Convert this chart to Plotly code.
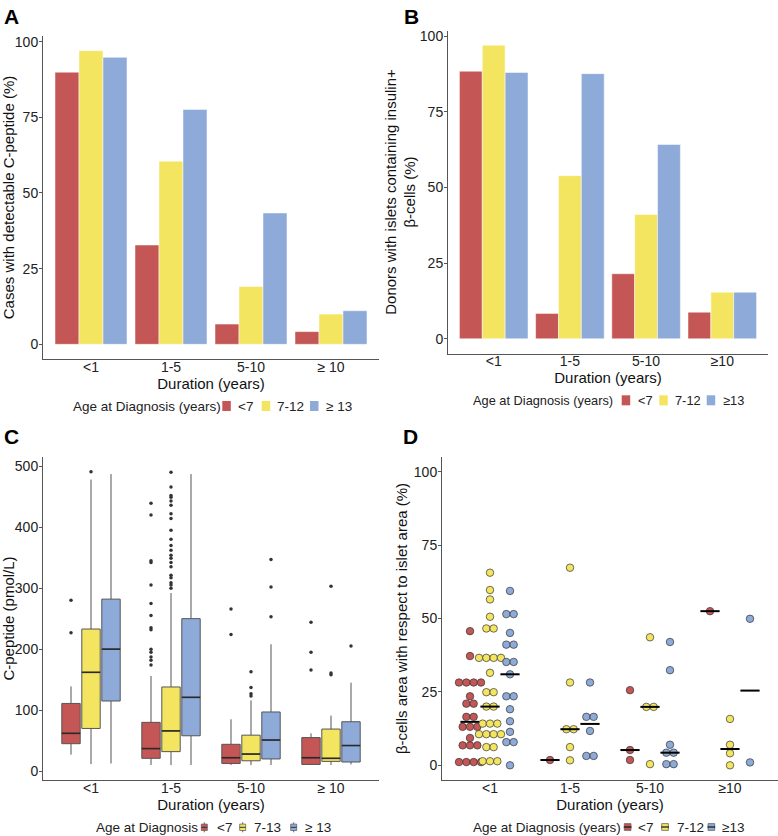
import plotly.graph_objects as go
import numpy as np

# ---------------- data ----------------
durations_AC = ["<1", "1-5", "5-10", "≥ 10"]
durations_BD = ["<1", "1-5", "5-10", "≥10"]

# Panel A: cases with detectable C-peptide (%)
a_groups = ["<7", "7-12", "≥ 13"]
a_lt7 = [89.9, 32.8, 6.7, 4.2]
a_7_12 = [97.0, 60.5, 19.1, 10.0]
a_ge13 = [94.8, 77.6, 43.4, 11.1]

# Panel B: donors with islets containing insulin+ beta-cells (%)
b_groups = ["<7", "7-12", "≥13"]
b_lt7 = [88.4, 8.4, 21.5, 8.8]
b_7_12 = [97.0, 53.9, 41.1, 15.4]
b_ge13 = [88.0, 87.6, 64.2, 15.4]

# Panel C: C-peptide (pmol/L) box statistics per duration
c_groups = ["<7", "7-13", "≥ 13"]
c_lt7_q1 = [45, 21, 12.6, 11]
c_lt7_med = [62, 37, 22, 22]
c_lt7_q3 = [111, 80, 44, 55]
c_lt7_lo = [27, 10, 10, 10]
c_lt7_hi = [139, 156, 85, 62]
c_lt7_out = [[280, 227],
             [439, 420, 345, 342, 305, 275, 255, 235, 232, 200, 195, 187, 182, 174],
             [266, 224],
             [244, 195, 166]]

c_7_13_q1 = [70, 32, 17, 16]
c_7_13_med = [162, 66, 28, 21]
c_7_13_q3 = [233, 138, 59, 69]
c_7_13_lo = [11.5, 10, 10, 10]
c_7_13_hi = [478, 292, 116, 91]
c_7_13_out = [[491],
              [490, 466, 452, 449, 443, 436, 422, 414, 395, 380, 370, 362, 354,
               349, 342, 335, 321, 317, 309, 305, 300],
              [163, 137, 127, 123],
              [303, 161, 158]]

c_ge13_q1 = [115, 58, 20, 15]
c_ge13_med = [200, 121, 51, 42]
c_ge13_q3 = [282, 250, 97, 81]
c_ge13_lo = [12.6, 10, 10, 11]
c_ge13_hi = [487, 487, 208, 145]
c_ge13_out = [[], [], [347, 302, 253], [205]]

# Panel D: beta-cell area with respect to islet area (%), per duration
d_groups = ["<7", "7-12", "≥13"]
d_lt7 = [
    [45.7, 37.2, 28.2, 28.2, 28.2, 28.2, 23.5, 21.0, 21.0, 16.5, 16.5,
     13.1, 13.1, 13.1, 9.3, 6.8, 6.8, 6.8, 1.1, 1.1, 1.1, 1.1],
    [1.8],
    [25.6, 5.2, 1.8],
    [52.5],
]
d_7_12 = [
    [65.6, 59.7, 56.5, 50.6, 46.6, 46.6, 36.6, 36.6, 36.6, 36.6, 31.5,
     24.9, 24.9, 20.0, 20.0, 14.2, 14.2, 14.2, 10.6, 10.6, 10.6, 10.6,
     6.2, 6.2, 1.4, 1.4, 1.4],
    [67.3, 28.2, 12.3, 12.3, 6.2, 1.7],
    [43.6, 19.9, 19.9, 0.4],
    [15.8, 7.0, 4.1, 0.0],
]
d_ge13 = [
    [59.4, 51.5, 51.5, 45.1, 41.1, 41.1, 35.2, 35.2, 31.0, 23.5, 23.5,
     19.1, 15.0, 11.4, 7.9, 7.9, 0.0],
    [28.2, 16.5, 16.5, 11.7, 3.2, 3.2],
    [42.0, 32.4, 7.0, 4.3, 4.3, 0.4, 0.4],
    [49.9, 1.0],
]

# ---------------- style ----------------
colors = ["#C45655", "#F4E561", "#8DAAD8"]
FONT = "Liberation Sans, Arial, sans-serif"
TXT = "#222222"
W, H = 778, 836
idx = list(range(4))
offsets = [-0.25, 0.0, 0.25]


def xd(a, b):
    return [a / W, b / W]


def yd(top, bottom):
    return [1 - bottom / H, 1 - top / H]


axis_common = dict(
    showline=True, linecolor="#555555", linewidth=1,
    showgrid=False, zeroline=False,
    tickfont=dict(size=14, color=TXT, family=FONT),
    title_font=dict(size=15, color="#111111", family=FONT),
)
xaxis_extra = dict(ticks="", ticklabelstandoff=-5)
yaxis_extra = dict(ticks="outside", ticklen=3, tickcolor="#555555", ticklabelstandoff=-2)

fig = go.Figure()

# ---------------- Panel A ----------------
for g, vals, c in zip(a_groups, [a_lt7, a_7_12, a_ge13], colors):
    fig.add_trace(go.Bar(x=idx, y=vals, name=g, showlegend=False,
                         marker=dict(color=c, line=dict(color="white", width=0.5)),
                         xaxis="x", yaxis="y"))

# ---------------- Panel B ----------------
for g, vals, c in zip(b_groups, [b_lt7, b_7_12, b_ge13], colors):
    fig.add_trace(go.Bar(x=idx, y=vals, name=g, showlegend=False,
                         marker=dict(color=c, line=dict(color="white", width=0.5)),
                         xaxis="x2", yaxis="y2"))

# ---------------- Panel C ----------------
c_sets = [
    (c_lt7_q1, c_lt7_med, c_lt7_q3, c_lt7_lo, c_lt7_hi, c_lt7_out),
    (c_7_13_q1, c_7_13_med, c_7_13_q3, c_7_13_lo, c_7_13_hi, c_7_13_out),
    (c_ge13_q1, c_ge13_med, c_ge13_q3, c_ge13_lo, c_ge13_hi, c_ge13_out),
]
box_w = 0.23
for g, (q1, med, q3, lo, hi, out), c, off in zip(c_groups, c_sets, colors, offsets):
    pos = [i + off for i in idx]
    fig.add_trace(go.Box(x=pos, q1=q1, median=med, q3=q3, lowerfence=lo, upperfence=hi,
                         width=box_w, fillcolor=c, line=dict(color="#555555", width=1),
                         whiskerwidth=0, boxpoints=False, name=g, showlegend=False,
                         xaxis="x3", yaxis="y3"))
    # darker median bar like the original
    medx, medy = [], []
    for p, m in zip(pos, med):
        medx += [p - box_w / 2, p + box_w / 2, None]
        medy += [m, m, None]
    fig.add_trace(go.Scatter(x=medx, y=medy, mode="lines", showlegend=False,
                             line=dict(color="#2a2a2a", width=1.6),
                             xaxis="x3", yaxis="y3"))
    ox, oy = [], []
    for i, o in zip(idx, out):
        ox += [i + off] * len(o)
        oy += o
    fig.add_trace(go.Scatter(x=ox, y=oy, mode="markers", showlegend=False,
                             marker=dict(size=3.5, color="#333333"),
                             xaxis="x3", yaxis="y3"))

# ---------------- Panel D ----------------
dot_step = 0.0917
for g, data, c, off in zip(d_groups, [d_lt7, d_7_12, d_ge13], colors, offsets):
    px, py = [], []
    mx, my = [], []
    for i, vals in zip(idx, data):
        uniq, counts = np.unique(vals, return_counts=True)
        for v, n in zip(uniq, counts):
            for k in range(n):
                px.append(i + off + (k - (n - 1) / 2) * dot_step)
                py.append(v)
        m = float(np.median(vals))
        mx += [i + off - 0.12, i + off + 0.12, None]
        my += [m, m, None]
    fig.add_trace(go.Scatter(x=px, y=py, mode="markers", showlegend=False, name=g,
                             marker=dict(size=7.5, color=c, line=dict(color="#333333", width=0.7)),
                             xaxis="x4", yaxis="y4"))
    fig.add_trace(go.Scatter(x=mx, y=my, mode="lines", showlegend=False,
                             line=dict(color="black", width=2),
                             xaxis="x4", yaxis="y4"))

# ---------------- layout ----------------
xr = [-0.6, 3.6]
fig.update_layout(
    width=W, height=H,
    margin=dict(l=0, r=0, t=0, b=0, autoexpand=False),
    paper_bgcolor="white", plot_bgcolor="white",
    barmode="group", bargap=0.1, bargroupgap=0,
    boxmode="overlay", showlegend=False,
    font=dict(family=FONT, color=TXT),
    xaxis=dict(domain=xd(43, 379), anchor="y", range=xr, tickvals=idx, ticktext=durations_AC,
               title=dict(text="Duration (years)", standoff=0), **axis_common, **xaxis_extra),
    yaxis=dict(domain=yd(36, 359), anchor="x", range=[-4.85, 101.85], tickvals=[0, 25, 50, 75, 100],
               title=dict(text="Cases with detectable C-peptide (%)", standoff=3), **axis_common, **yaxis_extra),
    xaxis2=dict(domain=xd(448, 768), anchor="y2", range=xr, tickvals=idx, ticktext=durations_BD,
                title=dict(text="Duration (years)", standoff=0), **axis_common, **xaxis_extra),
    yaxis2=dict(domain=yd(30.5, 353.5), anchor="x2", range=[-4.85, 101.85], tickvals=[0, 25, 50, 75, 100],
                title=dict(text="Donors with islets containing insulin+<br>β-cells (%)", standoff=0),
                **axis_common, **yaxis_extra),
    xaxis3=dict(domain=xd(43, 379), anchor="y3", range=xr, tickvals=idx, ticktext=durations_AC,
                title=dict(text="Duration (years)", standoff=0), **axis_common, **xaxis_extra),
    yaxis3=dict(domain=yd(457, 780), anchor="x3", range=[-14.5, 515], tickvals=[0, 100, 200, 300, 400, 500],
                title=dict(text="C-peptide (pmol/L)", standoff=3), **axis_common, **yaxis_extra),
    xaxis4=dict(domain=xd(442, 778), anchor="y4", range=xr, tickvals=idx, ticktext=durations_BD,
                title=dict(text="Duration (years)", standoff=0), **axis_common, **xaxis_extra),
    yaxis4=dict(domain=yd(457, 780), anchor="x4", range=[-5, 105], tickvals=[0, 25, 50, 75, 100],
                title=dict(text="β-cells area with respect to islet area (%)", standoff=2),
                **axis_common, **yaxis_extra),
)

# panel letters
for letter, x, y in [("A", 2, 3), ("B", 402, 3), ("C", 2, 423), ("D", 401, 423)]:
    fig.add_annotation(text="<b>%s</b>" % letter, x=x / W, y=1 - y / H, xref="paper", yref="paper",
                       xanchor="left", yanchor="top", showarrow=False,
                       font=dict(size=21, color="black", family=FONT))


# ---------------- legends (drawn as keys + text below each panel) ----------------
def text_at(text, x, y, size):
    fig.add_annotation(text=text, x=x / W, y=1 - y / H, xref="paper", yref="paper",
                       xanchor="left", yanchor="middle", showarrow=False, borderpad=0,
                       font=dict(size=size, color=TXT, family=FONT))


def rect_at(x0, x1, y0, y1, fill, line_color=None, lw=0):
    fig.add_shape(type="rect", xref="paper", yref="paper",
                  x0=x0 / W, x1=x1 / W, y0=1 - y1 / H, y1=1 - y0 / H,
                  fillcolor=fill, line=dict(color=line_color or fill, width=lw))


def line_at(x0, x1, y0, y1, color, lw):
    fig.add_shape(type="line", xref="paper", yref="paper",
                  x0=x0 / W, x1=x1 / W, y0=1 - y0 / H, y1=1 - y1 / H,
                  line=dict(color=color, width=lw))


legend_specs = [
    # title, groups, key kind, y, title x, key xs, label xs, font size
    ("Age at Diagnosis (years)", a_groups, "bar", 406, 72, [222.3, 261.7, 310], [237, 275.5, 324.5], 13.5),
    ("Age at Diagnosis (years)", b_groups, "bar", 400.3, 472.3, [621.7, 659.3, 706.7], [637, 673.8, 721.8], 12.8),
    ("Age at Diagnosis", c_groups, "box", 827.3, 95.3, [201.3, 239.7, 290.7], [215.8, 253.2, 303.5], 13.5),
    ("Age at Diagnosis (years)", d_groups, "dot", 827, 472.3, [624.3, 661.7, 708], [637.2, 675.5, 720.5], 13.5),
]
for title, groups, kind, yc, tx, kxs, lxs, fs in legend_specs:
    text_at(title, tx, yc, fs)
    for g, c, kx, lx in zip(groups, colors, kxs, lxs):
        if kind == "bar":
            rect_at(kx, kx + 8.5, yc - 5, yc + 5, c)
        elif kind == "box":
            line_at(kx + 3, kx + 3, yc - 5, yc + 5, "#666666", 1)
            rect_at(kx, kx + 6, yc - 3.2, yc + 3.2, c, "#666666", 0.8)
            line_at(kx, kx + 6, yc, yc, "#333333", 1)
        else:
            rect_at(kx, kx + 6.7, yc - 3.4, yc + 3.4, c, "#666666", 0.8)
            line_at(kx - 0.5, kx + 7.2, yc, yc, "#111111", 1.2)
        text_at(g, lx, yc, fs)

# the page's default body margin would shift the figure; remove it
fig.write_html("out.html", config={"displayModeBar": False},
               post_script="document.body.style.margin='0px';")
